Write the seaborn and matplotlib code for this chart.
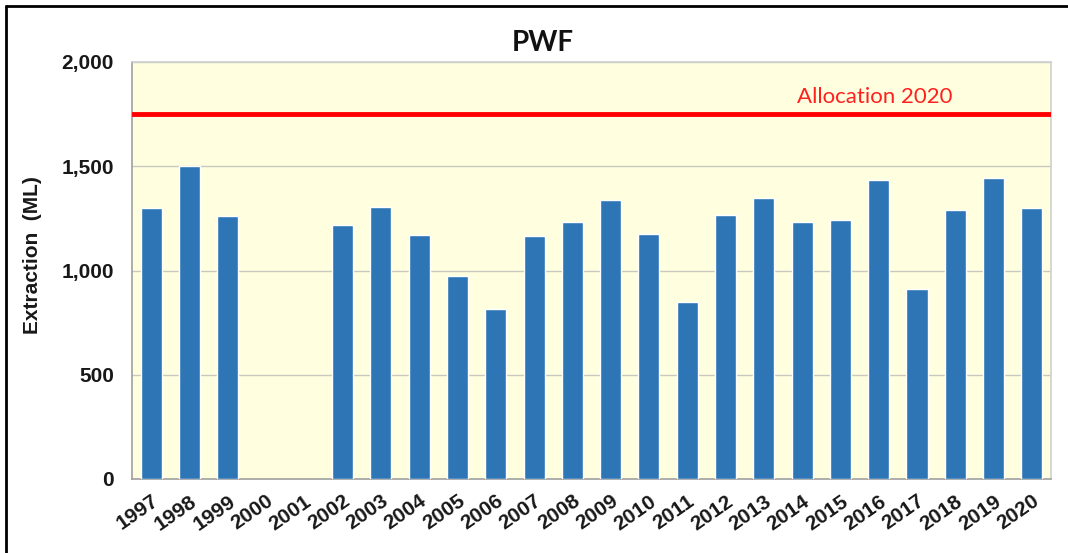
import numpy as np
import pandas as pd
import matplotlib
matplotlib.use("Agg")
import matplotlib.pyplot as plt
from matplotlib.ticker import FuncFormatter, FixedLocator
import seaborn as sns

years = [str(y) for y in range(1997, 2021)]
extraction = [1300, 1500, 1260, np.nan, np.nan, 1220, 1305, 1170, 975, 815,
              1165, 1235, 1340, 1175, 850, 1265, 1350, 1235, 1240, 1435,
              910, 1290, 1445, 1300]
allocation_2020 = 1750

data = pd.DataFrame({"year": years, "extraction": extraction})

sns.set_style("white")
plt.rcParams["font.family"] = ["Liberation Sans", "DejaVu Sans"]

fig = plt.figure(figsize=(10.68, 5.53), dpi=100)
ax = fig.add_axes([132 / 1068, 1 - 479 / 553, (1051 - 132) / 1068, (479 - 62) / 553])

sns.barplot(data=data, x="year", y="extraction", order=years, color="#2E75B6",
            saturation=1, width=0.55, ax=ax, zorder=3)
ax.axhline(allocation_2020, color="#FF0000", lw=3.5, zorder=4)
ax.text(18.9, 1830, "Allocation 2020", color="#FF2020", fontsize=16,
        family=["Lato", "DejaVu Sans"], ha="center", va="center")

ax.set_facecolor("#FFFFE0")
ax.set_ylim(0, 2000)
ax.set_xlim(-0.5, len(years) - 0.5)
ax.set_yticks([0, 500, 1000, 1500, 2000])
ax.yaxis.set_major_formatter(FuncFormatter(lambda v, p: f"{int(v):,}"))
ax.grid(axis="y", color="#C8C8C0", lw=1, zorder=0)

# category boundaries get the tick marks, labels sit at the centres
ax.xaxis.set_minor_locator(FixedLocator(np.arange(-0.5, len(years), 1)))
ax.tick_params(axis="x", which="major", length=0, pad=9)
ax.tick_params(axis="x", which="minor", length=5, color="#A0A0A0", direction="out")
ax.tick_params(axis="y", length=5, color="#A0A0A0", direction="out", pad=8)
ax.set_xticks(range(len(years)))
ax.set_xticklabels(years, rotation=35, ha="right", rotation_mode="anchor",
                   fontsize=15, fontweight="bold", color="#181818")
for lab in ax.get_yticklabels():
    lab.set_fontsize(15)
    lab.set_fontweight("bold")
    lab.set_color("#181818")

ax.set_xlabel("")
ax.set_ylabel("Extraction  (ML)", fontsize=15, fontweight="bold", color="#181818")
ax.yaxis.set_label_coords(-0.098, 0.537)

fig.text(543 / 1068, 1 - 43 / 553, "PWF", fontsize=20, fontweight="bold",
         family=["Lato", "DejaVu Sans"], ha="center", va="center", color="#111111")

for side in ["top", "right"]:
    ax.spines[side].set_color("#D0D0D0")
for side in ["left", "bottom"]:
    ax.spines[side].set_color("#A0A0A0")
for s in ax.spines.values():
    s.set_linewidth(1.2)

# outer frame lines (top and left only, as in the source screenshot)
fig.add_artist(plt.Line2D([6 / 1068, 6 / 1068], [0, 1 - 6 / 553], color="black", lw=2))
fig.add_artist(plt.Line2D([6 / 1068, 1], [1 - 6 / 553, 1 - 6 / 553], color="black", lw=2))

fig.savefig("out.png", dpi=100)
